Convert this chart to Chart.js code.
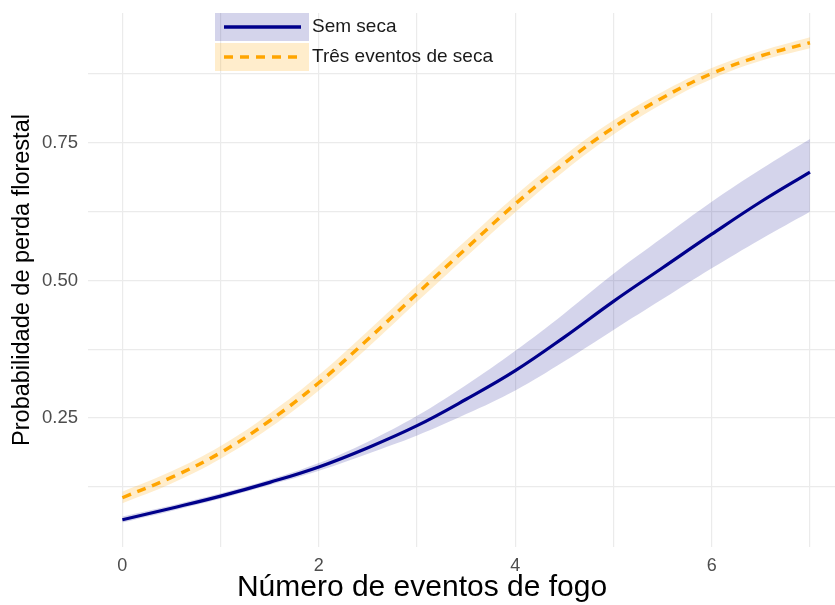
<!DOCTYPE html>
<html>
<head>
<meta charset="utf-8">
<script src="https://cdn.jsdelivr.net/npm/chart.js@4.4.1/dist/chart.umd.min.js"></script>
<style>
  html, body { margin: 0; padding: 0; background: #fff; overflow: hidden; }
  #wrap { width: 835px; height: 605px; position: relative; }
</style>
</head>
<body>
<div id="wrap"><canvas id="chart" width="835" height="605"></canvas></div>
<script>
// values
const fireEvents = [0, 0.5, 1, 1.5, 2, 2.5, 3, 3.5, 4, 4.5, 5, 5.5, 6, 6.5, 7];

const semSeca      = [0.065, 0.086, 0.108, 0.133, 0.161, 0.196, 0.236, 0.284, 0.336, 0.397, 0.462, 0.523, 0.584, 0.643, 0.697];
const semSecaLower = [0.060, 0.081, 0.103, 0.128, 0.154, 0.185, 0.218, 0.257, 0.300, 0.353, 0.410, 0.466, 0.522, 0.575, 0.625];
const semSecaUpper = [0.071, 0.091, 0.113, 0.138, 0.168, 0.207, 0.254, 0.310, 0.372, 0.440, 0.512, 0.578, 0.643, 0.702, 0.757];

const tresSeca      = [0.105, 0.142, 0.187, 0.245, 0.314, 0.393, 0.476, 0.558, 0.639, 0.713, 0.778, 0.832, 0.876, 0.908, 0.932];
const tresSecaLower = [0.095, 0.131, 0.176, 0.232, 0.300, 0.378, 0.461, 0.543, 0.624, 0.699, 0.765, 0.821, 0.866, 0.899, 0.922];
const tresSecaUpper = [0.116, 0.153, 0.199, 0.258, 0.328, 0.408, 0.491, 0.573, 0.654, 0.727, 0.791, 0.843, 0.886, 0.917, 0.942];

const xTicks = [0, 1, 2, 3, 4, 5, 6, 7];
const xLabelled = [0, 2, 4, 6];
const yTicks = [0.125, 0.25, 0.375, 0.5, 0.625, 0.75, 0.875];
const yLabelled = [0.25, 0.5, 0.75];

const seriesNames = ['Sem seca', 'Três eventos de seca'];
const xTitle = 'Número de eventos de fogo';
const yTitle = 'Probabilidade de perda florestal';

const BLUE = '#00008b';
const BLUE_BAND = 'rgba(0, 0, 139, 0.17)';
const ORANGE = '#ffa500';
const ORANGE_BAND = 'rgba(255, 165, 0, 0.2)';
const FONT = "'Liberation Sans', Arial, sans-serif";

const pts = (ys) => fireEvents.map((x, i) => ({ x: x, y: ys[i] }));

// ggplot-style legend sitting inside the panel, plus the x axis title
const extras = {
    id: 'extras',
    afterDraw(chart) {
        const ctx = chart.ctx;
        const keys = [
            { name: seriesNames[0], color: BLUE, band: BLUE_BAND, dash: [] },
            { name: seriesNames[1], color: ORANGE, band: ORANGE_BAND, dash: [9, 7] }
        ];
        ctx.save();
        keys.forEach((k, i) => {
            const top = 13 + i * 30;
            ctx.fillStyle = k.band;
            ctx.fillRect(215, top, 94, 28);
            ctx.strokeStyle = k.color;
            ctx.lineWidth = 3.5;
            ctx.setLineDash(k.dash);
            ctx.beginPath();
            ctx.moveTo(224, top + 14);
            ctx.lineTo(301, top + 14);
            ctx.stroke();
            ctx.setLineDash([]);
            ctx.fillStyle = '#1a1a1a';
            ctx.font = '19px ' + FONT;
            ctx.textBaseline = 'middle';
            ctx.textAlign = 'left';
            ctx.fillText(k.name, 312, top + 14);
        });

        // x title sits off-centre in the original
        ctx.fillStyle = '#000';
        ctx.font = '30px ' + FONT;
        ctx.textAlign = 'center';
        ctx.textBaseline = 'middle';
        ctx.fillText(xTitle, 422, 588);
        ctx.restore();
    }
};

const ctx = document.getElementById('chart');
new Chart(ctx, {
    type: 'line',
    data: {
        datasets: [{
            label: seriesNames[0],
            data: pts(semSeca),
            borderColor: BLUE,
            borderWidth: 3.2,
            pointRadius: 0,
            fill: false,
            tension: 0.4,
            order: 0
        }, {
            label: seriesNames[1],
            data: pts(tresSeca),
            borderColor: ORANGE,
            borderWidth: 3.5,
            borderDash: [9, 7],
            pointRadius: 0,
            fill: false,
            tension: 0.4,
            order: 1
        }, {
            label: 'semSecaLower',
            data: pts(semSecaLower),
            borderWidth: 0,
            borderColor: 'transparent',
            backgroundColor: BLUE_BAND,
            pointRadius: 0,
            fill: '+1',
            tension: 0.4,
            order: 3
        }, {
            label: 'semSecaUpper',
            data: pts(semSecaUpper),
            borderWidth: 0,
            borderColor: 'transparent',
            pointRadius: 0,
            fill: false,
            tension: 0.4,
            order: 3
        }, {
            label: 'tresSecaLower',
            data: pts(tresSecaLower),
            borderWidth: 0,
            borderColor: 'transparent',
            backgroundColor: ORANGE_BAND,
            pointRadius: 0,
            fill: '+1',
            tension: 0.4,
            order: 4
        }, {
            label: 'tresSecaUpper',
            data: pts(tresSecaUpper),
            borderWidth: 0,
            borderColor: 'transparent',
            pointRadius: 0,
            fill: false,
            tension: 0.4,
            order: 4
        }]
    },
    options: {
        responsive: false,
        animation: false,
        layout: {
            padding: { top: 13, right: 0, bottom: 0, left: 0 }
        },
        plugins: {
            legend: { display: false },
            tooltip: { enabled: false }
        },
        scales: {
            x: {
                type: 'linear',
                min: -0.35,
                max: 7.255,
                afterBuildTicks: (scale) => {
                    scale.ticks = xTicks.map(v => ({ value: v }));
                },
                afterFit: (scale) => {
                    scale.height = 58;
                    scale.paddingLeft = 0;
                    scale.paddingRight = 0;
                },
                grid: {
                    color: '#ebebeb',
                    lineWidth: 1.2,
                    drawTicks: false
                },
                border: { display: false },
                ticks: {
                    color: '#4d4d4d',
                    padding: 8,
                    maxRotation: 0,
                    autoSkip: false,
                    font: { family: FONT, size: 18 },
                    callback: (v) => xLabelled.includes(v) ? String(v) : ''
                }
            },
            y: {
                min: 0.0155,
                max: 0.986,
                afterBuildTicks: (scale) => {
                    scale.ticks = yTicks.map(v => ({ value: v }));
                },
                afterFit: (scale) => {
                    scale.width = 88;
                    scale.paddingTop = 0;
                    scale.paddingBottom = 0;
                },
                grid: {
                    color: '#ebebeb',
                    lineWidth: 1.2,
                    drawTicks: false
                },
                border: { display: false },
                ticks: {
                    color: '#4d4d4d',
                    padding: 10,
                    autoSkip: false,
                    font: { family: FONT, size: 18.5 },
                    callback: (v) => yLabelled.includes(v) ? v.toFixed(2) : ''
                },
                title: {
                    display: true,
                    text: yTitle,
                    color: '#000',
                    padding: { top: 8, bottom: 0 },
                    font: { family: FONT, size: 23.5 }
                }
            }
        }
    },
    plugins: [extras]
});
</script>
</body>
</html>
